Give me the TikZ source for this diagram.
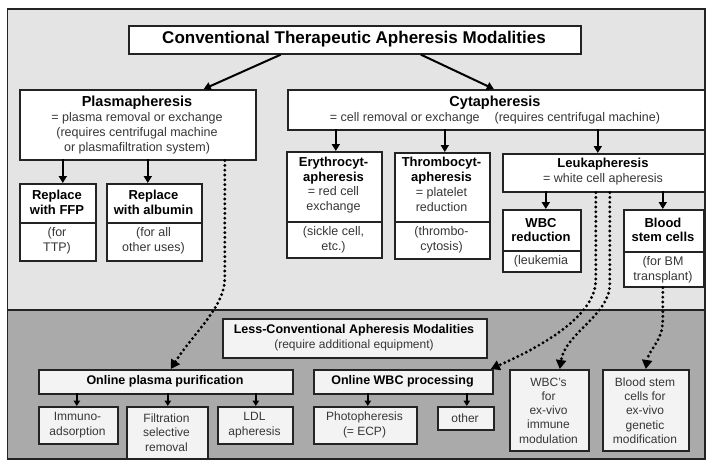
\documentclass[tikz,border=0pt]{standalone}
\usepackage{fontspec}
\setmainfont{Liberation Sans}
\usetikzlibrary{arrows.meta}
\definecolor{upbg}{RGB}{228,228,228}
\definecolor{lowbg}{RGB}{170,170,170}
\definecolor{lowbox}{RGB}{243,243,243}
\definecolor{txt}{RGB}{55,55,55}
\definecolor{frame}{RGB}{35,35,35}
\newcommand\bx[6][box]{\node[#1, minimum width={(#5-#3)*1pt}, minimum height={(#6-#4)*1pt}] (#2) at (#3,#4) {};}
\tikzset{
 box/.style={draw=frame, line width=1.6pt, fill=white, inner sep=0pt, anchor=north west},
 lbox/.style={box, fill=lowbox},
 divline/.style={draw=frame, line width=1.2pt},
 hdA/.style={font=\fontsize{14.5}{16}\selectfont\bfseries, text=black, align=center, inner sep=0pt},
 hdB/.style={font=\fontsize{13}{14.5}\selectfont\bfseries, text=black, align=center, inner sep=0pt},
 hdC/.style={font=\fontsize{12.5}{14.5}\selectfont\bfseries, text=black, align=center, inner sep=0pt},
 bd/.style={font=\fontsize{12.5}{15}\selectfont, text=txt, align=center, inner sep=0pt},
 lbd/.style={font=\fontsize{12}{14.3}\selectfont, text=txt, align=center, inner sep=0pt},
 arr/.style={line width=2pt, black, -{Triangle[length=7pt,width=8pt]}},
 sarr/.style={line width=1.6pt, black, -{Triangle[length=5.5pt,width=6.5pt]}},
 dotarr/.style={line width=3.2pt, black, dash pattern=on 0pt off 4.8pt, line cap=round, -{Triangle[length=9pt,width=10pt]}}
}
\begin{document}
\begin{tikzpicture}[x=1pt,y=-1pt]
\useasboundingbox (0,0) rectangle (706,460);
% backgrounds
\fill[upbg] (7.5,9) rectangle (705,310);
\fill[lowbg] (7.5,310) rectangle (705,459);
\draw[frame, line width=1.5pt] (7.5,310) -- (705,310);
\draw[frame, line width=1.5pt] (7.5,9) rectangle (705,459);

% title
\bx{title}{128}{25}{580}{53}
\node[font=\fontsize{17}{19}\selectfont\bfseries, inner sep=0pt] (titleT) at (354,39.5) {Conventional Therapeutic Apheresis Modalities};

% plasmapheresis
\bx{plasma}{19}{89}{255}{159}
\node[hdA] (plasmaH) at (137,103) {Plasmapheresis};
\node[bd] (plasmaB) at (137,133.5) {= plasma removal or exchange\\(requires centrifugal machine\\or plasmafiltration system)};

% cytapheresis
\bx{cyt}{287}{89}{704}{129}
\node[hdA] (cytH) at (495,103) {Cytapheresis};
\node[bd] (cytB) at (495,118.5) {= cell removal or exchange\hspace{15pt}(requires centrifugal machine)};

% replace FFP
\bx{ffp}{19}{183}{95}{260}
\draw[divline] ([yshift=-40pt]ffp.north west) -- ([yshift=-40pt]ffp.north east);
\node[hdB] (ffpH) at (57,202.5) {Replace\\with FFP};
\node[bd] (ffpB) at (57,241) {(for\\TTP)};

% replace albumin
\bx{alb}{106}{183}{201}{260}
\draw[divline] ([yshift=-40pt]alb.north west) -- ([yshift=-40pt]alb.north east);
\node[hdB] (albH) at (153.5,202.5) {Replace\\with albumin};
\node[bd] (albB) at (153.5,241) {(for all\\other uses)};

% erythrocytapheresis
\bx{ery}{286}{151}{381}{257}
\draw[divline] ([yshift=-71pt]ery.north west) -- ([yshift=-71pt]ery.north east);
\node[hdB] (eryH) at (333.5,170.5) {Erythrocyt-\\apheresis};
\node[bd] (eryB) at (333.5,200) {= red cell\\exchange};
\node[bd] (eryC) at (333.5,239.5) {(sickle cell,\\etc.)};

% thrombocytapheresis
\bx{thr}{394}{152}{489}{258}
\draw[divline] ([yshift=-70pt]thr.north west) -- ([yshift=-70pt]thr.north east);
\node[hdB] (thrH) at (441.5,170.5) {Thrombocyt-\\apheresis};
\node[bd] (thrB) at (441.5,200) {= platelet\\reduction};
\node[bd] (thrC) at (441.5,239.5) {(thrombo-\\cytosis)};

% leukapheresis
\bx{leuk}{502}{153}{704}{191}
\node[hdB] (leukH) at (603,164.5) {Leukapheresis};
\node[bd] (leukB) at (603,179.5) {= white cell apheresis};

% WBC reduction
\bx{wbcred}{502}{209}{580}{271}
\draw[divline] ([yshift=-42pt]wbcred.north west) -- ([yshift=-42pt]wbcred.north east);
\node[hdB] (wbcredH) at (541,230) {WBC\\reduction};
\node[bd] (wbcredB) at (541,261) {(leukemia};

% blood stem cells
\bx{bsc}{623}{209}{703}{286}
\draw[divline] ([yshift=-43pt]bsc.north west) -- ([yshift=-43pt]bsc.north east);
\node[hdB] (bscH) at (663,230) {Blood\\stem cells};
\node[bd] (bscB) at (663,269.5) {(for BM\\transplant)};

% lower section
\bx[lbox]{lc}{222}{318}{486}{357}
\node[hdC] (lcH) at (354,330.5) {Less-Conventional Apheresis Modalities};
\node[lbd] (lcB) at (354,345.5) {(require additional equipment)};

\bx[lbox]{opp}{38}{369}{292}{393}
\node[hdC] (oppH) at (165,381.5) {Online plasma purification};

\bx[lbox]{owbc}{313}{369}{492}{393}
\node[hdC] (owbcH) at (402.5,381.5) {Online WBC processing};

\bx[lbox]{wbcs}{509}{369}{588}{450}
\node[lbd] (wbcsT) at (548.5,410.5) {WBC's\\for\\ex-vivo\\immune\\modulation};

\bx[lbox]{bsc2}{602}{369}{688}{450}
\node[lbd] (bsc2T) at (645,410.5) {Blood stem\\cells for\\ex-vivo\\genetic\\modification};

\bx[lbox]{imm}{38}{406}{117}{443}
\node[lbd] (immT) at (77.5,425) {Immuno-\\adsorption};
\bx[lbox]{filt}{126}{406}{207}{458}
\node[lbd] (filtT) at (166.5,432.5) {Filtration\\selective\\removal};
\bx[lbox]{ldl}{217}{406}{292}{443}
\node[lbd] (ldlT) at (254.5,425) {LDL\\apheresis};
\bx[lbox]{photo}{313}{406}{416}{443}
\node[lbd] (photoT) at (364.5,425) {Photopheresis\\(= ECP)};
\bx[lbox]{other}{437}{406}{493}{429}
\node[lbd] (otherT) at (465,418) {other};

% solid arrows
\draw[arr] ([xshift=-74pt]title.south) -- ([xshift=66pt]plasma.north);
\draw[arr] ([xshift=66pt]title.south) -- ([xshift=-2.5pt]cyt.north);
\draw[arr] ([xshift=5pt,yshift=24pt]ffp.north) -- ([xshift=5pt]ffp.north);
\draw[arr] ([xshift=-6.5pt,yshift=24pt]alb.north) -- ([xshift=-6.5pt]alb.north);
\draw[arr] ([xshift=1.5pt,yshift=22pt]ery.north) -- ([xshift=1.5pt]ery.north);
\draw[arr] ([xshift=2.5pt,yshift=23pt]thr.north) -- ([xshift=2.5pt]thr.north);
\draw[arr] ([xshift=-6pt,yshift=24pt]leuk.north) -- ([xshift=-6pt]leuk.north);
\draw[arr] ([xshift=4pt,yshift=18pt]wbcred.north) -- ([xshift=4pt]wbcred.north);
\draw[arr] ([xshift=-1pt,yshift=18pt]bsc.north) -- ([xshift=-1pt]bsc.north);
\draw[sarr] ([xshift=-1.5pt,yshift=13pt]imm.north) -- ([xshift=-1.5pt]imm.north);
\draw[sarr] ([xshift=0.5pt,yshift=13pt]filt.north) -- ([xshift=0.5pt]filt.north);
\draw[sarr] ([xshift=0.5pt,yshift=13pt]ldl.north) -- ([xshift=0.5pt]ldl.north);
\draw[sarr] ([xshift=2.5pt,yshift=13pt]photo.north) -- ([xshift=2.5pt]photo.north);
\draw[sarr] ([xshift=1pt,yshift=13pt]other.north) -- ([xshift=1pt]other.north);

% dotted arrows
\draw[dotarr] ([xshift=87pt]plasma.south) -- ++(0,118) .. controls +(0,28) and +(22,-35) .. ([xshift=5pt]opp.north);
\draw[dotarr] ([xshift=-8pt]leuk.south) -- ++(0,87) .. controls +(0,40) and +(40,-18) .. ([xshift=87.5pt]owbc.north);
\draw[dotarr] ([xshift=6pt]leuk.south) -- ++(0,92) .. controls +(0,30) and +(5,-35) .. ([xshift=10.5pt]wbcs.north);
\draw[dotarr] ([xshift=-1pt]bsc.south) -- ++(0,32) .. controls +(0,22) and +(3,-20) .. ([xshift=0pt]bsc2.north);
\end{tikzpicture}
\end{document}
